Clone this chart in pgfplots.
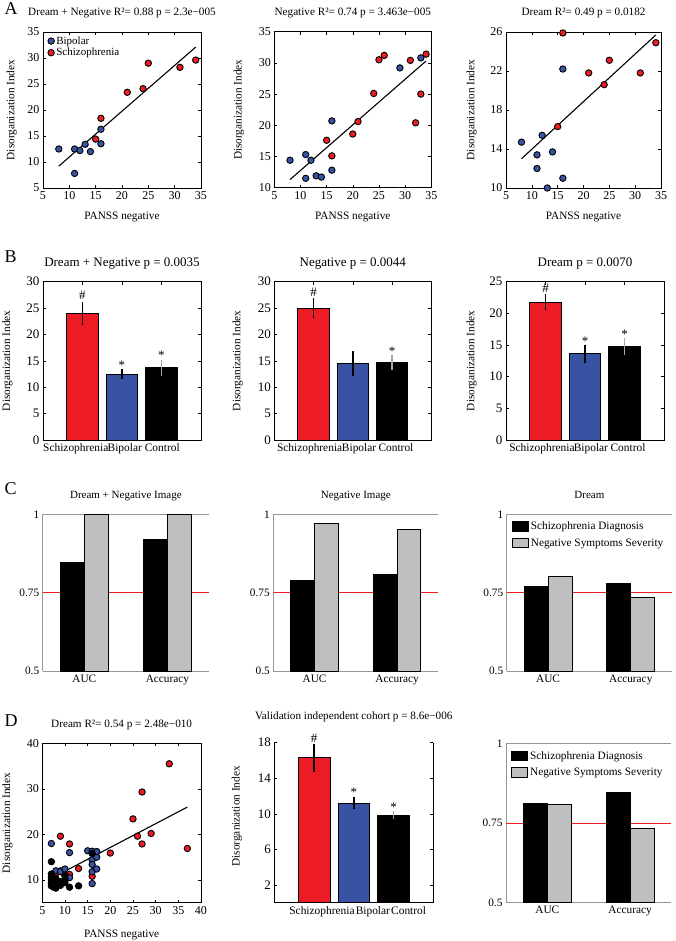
\documentclass[border=0pt]{standalone}
\usepackage{fontspec}
\setmainfont{Liberation Serif}
\usepackage{pgfplots}
\pgfplotsset{compat=1.18}

\definecolor{schred}{RGB}{237,28,36}
\definecolor{bpblue}{RGB}{57,83,164}
\definecolor{barg}{RGB}{190,191,193}
\definecolor{frameg}{RGB}{150,150,150}

\pgfplotsset{
  panel/.style={scale only axis, anchor=south west, clip=false,
    tick align=inside, major tick length=3pt,
    axis line style={line width=0.9pt}, every tick/.style={black, line width=0.6pt},
    /pgf/number format/assume math mode=true,
    tick label style={font=\fontsize{12}{14}\selectfont},
    label style={font=\fontsize{11.3}{13}\selectfont},
    title style={font=\fontsize{11.2}{13}\selectfont, at={(0.5,1)}, anchor=base},
    ylabel style={anchor=center}, xlabel style={anchor=center}},
  scat/.style={panel, xlabel={PANSS negative}, ylabel={Disorganization Index},
    title style={yshift=10pt}},
  pts/.style={only marks, mark=*, mark size=3.2pt,
    mark options={draw=black, fill=#1, line width=0.9pt},
    legend image code/.code={\draw[##1] plot coordinates {(3pt,0pt)};}},
  fitl/.style={black, line width=1.1pt, forget plot},
  bars/.style={panel, xmin=0, xmax=4, ymin=0, xtick={1,2,3}, xticklabels={,,},
    ylabel={Disorganization Index},
    tick label style={font=\fontsize{13}{15}\selectfont},
    extra x tick style={major tick length=0pt},
    xticklabel style={font=\fontsize{11.4}{13}\selectfont}},
  errs/.style={error bars/.cd, y dir=both, y explicit, error mark=none,
    error bar style={line width=1.4pt, #1}},
  roc/.style={panel, clip=true, xmin=0.5, xmax=2.5, ymin=0.5, ymax=1,
    axis y line*=left, axis line style={frameg, line width=0.9pt},
    major tick length=0pt, xtick={1,2}, xticklabels={AUC,Accuracy},
    ytick={0.5,0.75,1}, yticklabels={0.5,0.75,1},
    tick label style={font=\fontsize{11.3}{13}\selectfont},
    title style={font=\fontsize{11}{13}\selectfont, yshift=10pt},
    legend style={draw=none, fill=none, at={(0.03,0.965)}, anchor=north west,
      font=\fontsize{11.3}{12}\selectfont, row sep=3.5pt, inner sep=0pt},
    legend cell align=left},
  cbar/.style={ybar, bar width=0.29, bar shift=0pt, fill=#1, draw=black, line width=1pt},
  sq/.style={legend image code/.code={\path[draw=black, fill=#1, line width=1pt] (0pt,-4.5pt) rectangle (16pt,5pt);}},
  refl/.style={draw=schred, line width=1.2pt, forget plot},
}

\begin{document}
\begin{tikzpicture}[x=1pt,y=1pt]
\useasboundingbox (0,0) rectangle (675,941);

% ---------------- A ----------------
\begin{axis}[scat, at={(43pt,753pt)}, width=158pt, height=156pt,
    xmin=5, xmax=35, ymin=5, ymax=35, xtick={5,10,...,35}, ytick={5,10,...,35},
    title={Dream + Negative R²= 0.88 p = 2.3e−005},
    ylabel style={at={(axis description cs:-0.198,0.5)}},
    xlabel style={at={(axis description cs:0.5,-0.188)}},
    legend style={draw=none, fill=none, at={(0.03,0.985)}, anchor=north west,
      font=\fontsize{11}{12}\selectfont, row sep=-1.5pt, inner sep=0pt},
    legend cell align=left]
\addplot[pts=bpblue] coordinates {(8,12.5) (11,7.8) (11,12.5) (12,12.2) (13,13.4) (14,12.0) (16,13.5) (16,16.3)};
\addlegendentry{Bipolar}
\addplot[pts=schred] coordinates {(15,14.4) (16,18.4) (21,23.4) (24,24.1) (25,29.0) (31,28.2) (34,29.6)};
\addlegendentry{Schizophrenia}
\addplot[fitl] coordinates {(8,9.2) (34,32.1)};
\end{axis}

\begin{axis}[scat, at={(274.3pt,753.3pt)}, width=157pt, height=156pt,
    xmin=5, xmax=35, ymin=10, ymax=35, xtick={5,10,...,35}, ytick={10,15,...,35},
    title={Negative R²= 0.74 p = 3.463e−005},
    ylabel style={at={(axis description cs:-0.226,0.5)}},
    xlabel style={at={(axis description cs:0.5,-0.188)}}]
\addplot[fitl] coordinates {(8,11.3) (34,30.3)};
\addplot[pts=bpblue] coordinates {(8,14.4) (11,15.3) (11,11.5) (12,14.4) (13,11.9) (14,11.7) (16,20.7) (16,12.8) (29,29.2) (33,30.8)};
\addplot[pts=schred] coordinates {(15,17.6) (16,15.1) (20,18.6) (21,20.6) (24,25.1) (25,30.5) (26,31.2) (31,30.4) (32,20.4) (33,25.0) (34,31.4)};
\end{axis}

\begin{axis}[scat, at={(506pt,753pt)}, width=155pt, height=156pt,
    xmin=5, xmax=35, ymin=10, ymax=26, xtick={5,10,...,35}, ytick={10,14,...,26},
    title={Dream R²= 0.49 p = 0.0182},
    ylabel style={at={(axis description cs:-0.221,0.5)}},
    xlabel style={at={(axis description cs:0.5,-0.188)}}]
\addplot[fitl] coordinates {(8,13.0) (34,25.7)};
\addplot[pts=bpblue] coordinates {(8,14.7) (11,13.4) (11,12.0) (12,15.4) (13,10.0) (14,13.7) (16,11.0) (16,22.2)};
\addplot[pts=schred] coordinates {(15,16.3) (16,25.9) (21,21.8) (24,20.6) (25,23.1) (31,21.8) (34,24.9)};
\end{axis}

% ---------------- B ----------------
\begin{axis}[bars, at={(43pt,501pt)}, width=158pt, height=158.3pt,
    ymax=30, ytick={0,5,...,30}, title={Dream + Negative p = 0.0035},
    title style={font=\fontsize{13}{15}\selectfont, yshift=9pt},
    extra x ticks={0.83,2.07,3.02}, extra x tick labels={Schizophrenia,Bipolar,Control},
    ylabel style={at={(axis description cs:-0.225,0.5)}}]
\addplot[ybar, bar width=0.8, bar shift=0pt, fill=schred, draw=black, line width=0.8pt, errs=black] coordinates {(1,24.0) +- (0,2.2)};
\addplot[ybar, bar width=0.8, bar shift=0pt, fill=bpblue, draw=black, line width=0.8pt, errs=black] coordinates {(2,12.5) +- (0,0.9)};
\addplot[ybar, bar width=0.8, bar shift=0pt, fill=black, draw=black, line width=0.8pt, errs=gray!70] coordinates {(3,13.7) +- (0,1.5)};
\node[anchor=base, yshift=2pt, font=\fontsize{13}{15}\selectfont] at (axis cs:1,26.2) {\#};
\node[anchor=base, font=\fontsize{13}{15}\selectfont] at (axis cs:2,13.4) {*};
\node[anchor=base, font=\fontsize{13}{15}\selectfont] at (axis cs:3,15.2) {*};
\end{axis}

\begin{axis}[bars, at={(274.3pt,501pt)}, width=157pt, height=158.3pt,
    ymax=30, ytick={0,5,...,30}, title={Negative p = 0.0044},
    title style={font=\fontsize{13}{15}\selectfont, yshift=9pt},
    extra x ticks={0.90,2.16,3.10}, extra x tick labels={Schizophrenia,Bipolar,Control},
    ylabel style={at={(axis description cs:-0.234,0.5)}}]
\addplot[ybar, bar width=0.8, bar shift=0pt, fill=schred, draw=black, line width=0.8pt, errs=black] coordinates {(1,25.0) +- (0,1.9)};
\addplot[ybar, bar width=0.8, bar shift=0pt, fill=bpblue, draw=black, line width=0.8pt, errs=black] coordinates {(2,14.5) +- (0,2.4)};
\addplot[ybar, bar width=0.8, bar shift=0pt, fill=black, draw=black, line width=0.8pt, errs=gray!70] coordinates {(3,14.7) +- (0,1.4)};
\node[anchor=base, yshift=2pt, font=\fontsize{13}{15}\selectfont] at (axis cs:1,26.9) {\#};
\node[anchor=base, font=\fontsize{13}{15}\selectfont] at (axis cs:3,16.1) {*};
\end{axis}

\begin{axis}[bars, at={(506pt,501pt)}, width=158pt, height=158.3pt,
    ymax=25, ytick={0,5,...,25}, title={Dream p = 0.0070},
    title style={font=\fontsize{13}{15}\selectfont, yshift=9pt},
    extra x ticks={0.91,2.15,3.09}, extra x tick labels={Schizophrenia,Bipolar,Control},
    ylabel style={at={(axis description cs:-0.217,0.5)}}]
\addplot[ybar, bar width=0.8, bar shift=0pt, fill=schred, draw=black, line width=0.8pt, errs=black] coordinates {(1,21.8) +- (0,1.2)};
\addplot[ybar, bar width=0.8, bar shift=0pt, fill=bpblue, draw=black, line width=0.8pt, errs=black] coordinates {(2,13.6) +- (0,1.4)};
\addplot[ybar, bar width=0.8, bar shift=0pt, fill=black, draw=black, line width=0.8pt, errs=gray!70] coordinates {(3,14.8) +- (0,1.3)};
\node[anchor=base, yshift=2pt, font=\fontsize{13}{15}\selectfont] at (axis cs:1,23.0) {\#};
\node[anchor=base, font=\fontsize{13}{15}\selectfont] at (axis cs:2,15.0) {*};
\node[anchor=base, font=\fontsize{13}{15}\selectfont] at (axis cs:3,16.1) {*};
\end{axis}

% ---------------- C ----------------
\begin{axis}[roc, at={(42.7pt,269.7pt)}, width=166.3pt, height=157pt, title={Dream + Negative Image}]
\addplot[refl] coordinates {(0.5,0.75) (2.5,0.75)};
\addplot[cbar=black] coordinates {(0.855,0.846) (1.855,0.920)};
\addplot[cbar=barg] coordinates {(1.145,1.000) (2.145,1.000)};
\end{axis}

\begin{axis}[roc, at={(273.3pt,269.7pt)}, width=165pt, height=157pt, title={Negative Image}]
\addplot[refl] coordinates {(0.5,0.75) (2.5,0.75)};
\addplot[cbar=black] coordinates {(0.855,0.790) (1.855,0.807)};
\addplot[cbar=barg] coordinates {(1.145,0.970) (2.145,0.951)};
\end{axis}

\begin{axis}[roc, at={(506.7pt,269.7pt)}, width=165.4pt, height=157pt, title={Dream}]
\addplot[refl] coordinates {(0.5,0.75) (2.5,0.75)};
\addplot[cbar=black, sq=black] coordinates {(0.855,0.769) (1.855,0.780)};
\addlegendentry{Schizophrenia Diagnosis}
\addplot[cbar=barg, sq=barg] coordinates {(1.145,0.803) (2.145,0.735)};
\addlegendentry{Negative Symptoms Severity}
\end{axis}

% ---------------- D ----------------
\begin{axis}[scat, at={(42.3pt,38.3pt)}, width=158.7pt, height=159.4pt,
    xmin=5, xmax=40, ymin=5, ymax=40, xtick={5,10,...,40}, ytick={10,20,30,40},
    title={Dream R²= 0.54 p = 2.48e−010},
    ylabel style={at={(axis description cs:-0.22,0.5)}},
    xlabel style={at={(axis description cs:0.5,-0.203)}}]
\addplot[pts=schred] coordinates {(8,9.6) (8,11.5) (9,19.6) (9,12.0) (11,17.9) (11,11.2) (13,12.5) (16,10.8) (16,16.2) (17,16.2) (20,15.9) (25,23.4) (26,19.6) (27,29.3) (27,17.9) (29,20.2) (33,35.5) (37,16.9)};
\addplot[pts=bpblue] coordinates {(7,18.0) (8,12.0) (9,11.8) (10,12.4) (10,10.9) (11,16.0) (11,10.5) (15,16.4) (16,16.3) (16,14.4) (16,13.4) (16,11.8) (16,9.2) (17,15.0) (17,12.4) (17,16.2)};
\addplot[pts=black] coordinates {(7,14.0) (7,11.3) (7,10.6) (7,10.0) (7,9.3) (7,8.7) (7.5,8.4) (8,9.0) (8,8.2) (8,10.3) (9,9.6) (9,8.8) (10,10.2) (10,9.4) (10,11.0) (11,8.4) (13,8.7) (16,15.8)};
\addplot[fitl] coordinates {(9,11.4) (37,26.0)};
\end{axis}

\begin{axis}[bars, at={(274.3pt,38.3pt)}, width=159pt, height=160pt,
    axis x line*=bottom, ymax=18, ytick={2,6,10,14,18},
    title={Validation independent cohort p = 8.6e−006},
    title style={font=\fontsize{11.2}{13}\selectfont, yshift=17pt},
    extra x ticks={1.20,2.48,3.38}, extra x tick labels={Schizophrenia,Bipolar,Control},
    ylabel style={at={(axis description cs:-0.235,0.54)}}]
\addplot[ybar, bar width=0.8, bar shift=0pt, fill=schred, draw=black, line width=0.8pt, errs=black] coordinates {(1,16.3) +- (0,1.55)};
\addplot[ybar, bar width=0.8, bar shift=0pt, fill=bpblue, draw=black, line width=0.8pt, errs=black] coordinates {(2,11.2) +- (0,0.7)};
\addplot[ybar, bar width=0.8, bar shift=0pt, fill=black, draw=black, line width=0.8pt, errs=gray!70] coordinates {(3,9.85) +- (0,0.45)};
\node[anchor=base, yshift=2pt, font=\fontsize{13}{15}\selectfont] at (axis cs:1,17.85) {\#};
\node[anchor=base, font=\fontsize{13}{15}\selectfont] at (axis cs:2,11.9) {*};
\node[anchor=base, font=\fontsize{13}{15}\selectfont] at (axis cs:3,10.3) {*};
\end{axis}

\begin{axis}[roc, at={(506pt,38.3pt)}, width=165.4pt, height=159pt]
\addplot[refl] coordinates {(0.5,0.75) (2.5,0.75)};
\addplot[cbar=black, sq=black] coordinates {(0.855,0.811) (1.855,0.848)};
\addlegendentry{Schizophrenia Diagnosis}
\addplot[cbar=barg, sq=barg] coordinates {(1.145,0.808) (2.145,0.734)};
\addlegendentry{Negative Symptoms Severity}
\end{axis}

% panel letters
\node[anchor=base west, font=\fontsize{18}{20}\selectfont] at (1,926) {A};
\node[anchor=base west, font=\fontsize{18}{20}\selectfont] at (1,678) {B};
\node[anchor=base west, font=\fontsize{18}{20}\selectfont] at (1,446) {C};
\node[anchor=base west, font=\fontsize{18}{20}\selectfont] at (1,214) {D};
\end{tikzpicture}
\end{document}
